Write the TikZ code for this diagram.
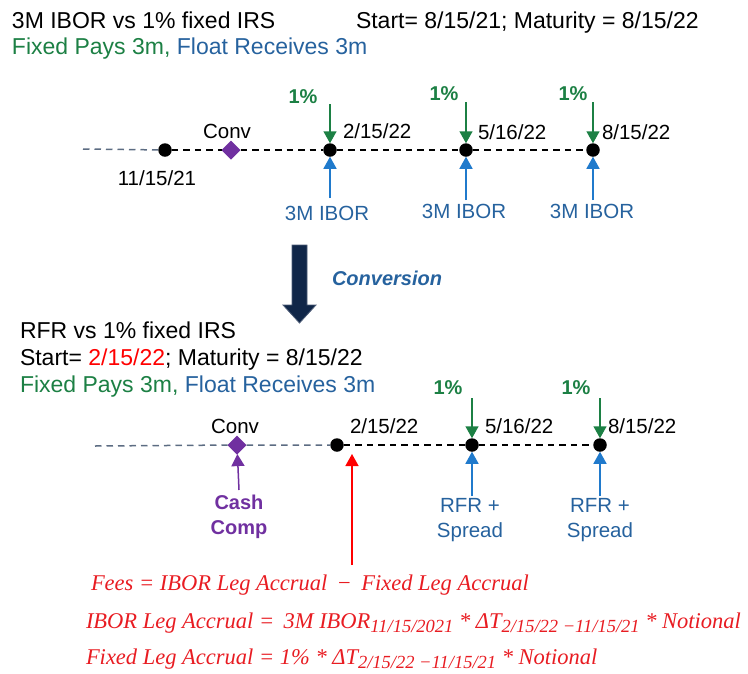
\documentclass[tikz,border=0pt]{standalone}
\usepackage{fontspec}
\setmainfont{Liberation Sans}
\newfontfamily\fmlfont{Liberation Serif}
\usetikzlibrary{arrows.meta,shapes.geometric,positioning}

\definecolor{paygreen}{RGB}{28,128,68}
\definecolor{recblue}{RGB}{38,98,158}
\definecolor{arrblue}{RGB}{32,122,204}
\definecolor{convpurple}{RGB}{112,48,160}
\definecolor{convnavy}{RGB}{16,38,72}
\definecolor{oldline}{RGB}{92,108,130}
\definecolor{feered}{RGB}{232,28,34}

% subscripts of the fee formulas
\newcommand\fsub[1]{\raisebox{-0.18em}{\fontsize{18.5}{20}\selectfont #1}}

\begin{document}
\begin{tikzpicture}[x=1pt,y=-1pt,
		every node/.style={inner sep=0pt, outer sep=0pt},
		hdr/.style={anchor=base west, font=\fontsize{23}{27}\selectfont},
		lbl/.style={anchor=base, font=\fontsize{20.5}{25}\selectfont},
		date/.style={anchor=base west, font=\fontsize{20.5}{25}\selectfont},
		pct/.style={anchor=base, text=paygreen, font=\fontsize{20}{24}\selectfont\bfseries},
		fml/.style={anchor=base west, text=feered, font=\fontsize{22.5}{26}\fmlfont\itshape},
		dot/.style={circle, fill=black, minimum size=13.5pt},
		conv/.style={diamond, fill=convpurple, minimum size=19pt},
		tline/.style={line width=1.5pt, dash pattern=on 6.5pt off 5pt},
		pay/.style={draw=paygreen, line width=1.5pt, -{Triangle[width=13pt,length=12pt]}},
		rec/.style={draw=arrblue, line width=1.5pt, -{Triangle[width=13pt,length=12pt]}},
		cash/.style={draw=convpurple, line width=1.5pt, -{Triangle[width=13pt,length=12pt]}},
		fee/.style={draw=red, line width=1.5pt, -{Triangle[width=13pt,length=12pt]}}]
		
		\useasboundingbox (0,0) rectangle (748,673);
		
		% IBOR swap
		\node[hdr] (title1) at (12,28) {3M IBOR vs 1\% fixed IRS};
		\node[hdr] (start1) at (356,28) {Start= 8/15/21; Maturity = 8/15/22};
		\node[hdr] (legs1) at (12,54) {\textcolor{paygreen}{Fixed Pays 3m,} \textcolor{recblue}{Float Receives 3m}};
		
		\coordinate (s1) at (83,149);
		\node[dot] (d1) at (165,150) {};
		\node[conv] (cv1) at (231,150) {};
		\node[dot] (d2) at (330,150) {};
		\node[dot] (d3) at (466,150) {};
		\node[dot] (d4) at (593,150) {};
		
		\node[lbl] (t1) at (157,185) {11/15/21};
		\node[lbl] (c1) at (227,138) {Conv};
		\node[date] (t2) at (343,138) {2/15/22};
		\node[date] (t3) at (478,139) {5/16/22};
		\node[date] (t4) at (602,139) {8/15/22};
		
		\node[pct] (p2) at (303,103) {1\%};
		\node[pct] (p3) at (444,100) {1\%};
		\node[pct] (p4) at (573,100) {1\%};
		\coordinate (g2) at (330,104);
		\coordinate (g3) at (466,102);
		\coordinate (g4) at (593,102);
		
		\node[lbl, text=recblue] (i2) at (327,220) {3M IBOR};
		\node[lbl, text=recblue] (i3) at (464,218) {3M IBOR};
		\node[lbl, text=recblue] (i4) at (592,218) {3M IBOR};
		\coordinate (b2) at (330,198);
		\coordinate (b3) at (466,200);
		\coordinate (b4) at (593,200);
		
		\draw[tline, oldline] (s1) -- (d1);
		\draw[tline] (d1) -- (cv1) -- (d2) -- (d3) -- (d4);
		\draw (g2) edge[pay] (d2)
		(g3) edge[pay] (d3)
		(g4) edge[pay] (d4)
		(b2) edge[rec] (d2)
		(b3) edge[rec] (d3)
		(b4) edge[rec] (d4);
		
		% conversion
		\filldraw[fill=convnavy, draw=convnavy!75!white, line width=0.8pt]
		(292,245) -- (307,245) -- (307,305) -- (316,305) -- (299.5,323)
		-- (283,305) -- (292,305) -- cycle;
		\node[anchor=base west, text=recblue, font=\fontsize{20}{24}\selectfont\bfseries\itshape] (cv) at (332,285) {Conversion};
		
		% RFR swap
		\node[hdr] (title2) at (20,338) {RFR vs 1\% fixed IRS};
		\node[hdr] (start2) at (20,365) {Start= \textcolor{red}{2/15/22}; Maturity = 8/15/22};
		\node[hdr] (legs2) at (20,392) {\textcolor{paygreen}{Fixed Pays 3m,} \textcolor{recblue}{Float Receives 3m}};
		
		\coordinate (s2) at (95,446);
		\node[conv] (cv2) at (237,445) {};
		\node[dot] (e1) at (337,445) {};
		\node[dot] (e2) at (472,445) {};
		\node[dot] (e3) at (600,445) {};
		
		\node[lbl] (c2) at (235,433) {Conv};
		\node[date] (u1) at (350,433) {2/15/22};
		\node[date] (u2) at (485,433) {5/16/22};
		\node[date] (u3) at (608,433) {8/15/22};
		
		\node[pct] (q2) at (448,394) {1\%};
		\node[pct] (q3) at (576,394) {1\%};
		\coordinate (h2) at (472,398);
		\coordinate (h3) at (600,398);
		
		\node[lbl, anchor=north, align=center, text=recblue] (r2) at (470,498) {RFR +\\Spread};
		\node[lbl, anchor=north, align=center, text=recblue] (r3) at (600,498) {RFR +\\Spread};
		\coordinate (k2) at (472,496);
		\coordinate (k3) at (600,496);
		
		\node[lbl, anchor=north, align=center, text=convpurple, font=\fontsize{20}{25}\selectfont\bfseries] (cc) at (239,495.5) {Cash\\Comp};
		\coordinate (m1) at (239,490);
		\coordinate (fb) at (352,565);
		\coordinate (ft) at (352,454);
		
		\draw[tline, oldline] (s2) -- (cv2) -- (e1);
		\draw[tline] (e1) -- (e2) -- (e3);
		\draw (h2) edge[pay] (e2)
		(h3) edge[pay] (e3)
		(k2) edge[rec] (e2)
		(k3) edge[rec] (e3)
		(m1) edge[cash] (cv2)
		(fb) edge[fee] (ft);
		
		% fees
		\node[fml] (f1) at (91,590) {Fees = IBOR Leg Accrual \,−\, Fixed Leg Accrual};
		\node[fml] (f2) at (86,628) {IBOR Leg Accrual = \,3M IBOR\fsub{11/15/2021} * ΔT\fsub{2/15/22 −11/15/21} * Notional};
		\node[fml] (f3) at (86,664) {Fixed Leg Accrual = 1\% * ΔT\fsub{2/15/22 −11/15/21} * Notional};
		
	\end{tikzpicture}
\end{document}
